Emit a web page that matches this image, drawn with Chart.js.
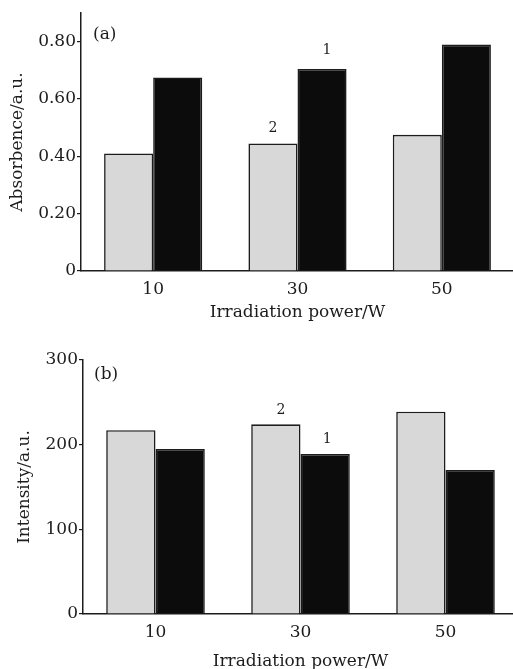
<!DOCTYPE html>
<html>
<head>
<meta charset="utf-8">
<script src="https://cdn.jsdelivr.net/npm/chart.js@4/dist/chart.umd.min.js"></script>
<style>
  html, body { margin: 0; padding: 0; background: #fff; overflow: hidden; width: 513px; height: 669px; }
  .panel { position: absolute; left: 0; }
</style>
</head>
<body>
<div class="panel" style="top:0px; width:515px; height:323px;"><canvas id="chartA"></canvas></div>
<div class="panel" style="top:340px; width:520px; height:332px;"><canvas id="chartB"></canvas></div>
<script>
// data
const powers = ['10', '30', '50'];
const absorb2 = [0.41, 0.445, 0.475];   // curve 2, grey bars
const absorb1 = [0.675, 0.705, 0.79];   // curve 1, black bars
const intens2 = [217, 224, 239];
const intens1 = [195, 189, 170];
const curveNames = ['2', '1'];
const xTitle = 'Irradiation power/W';

const SERIF = "'DejaVu Serif', 'Liberation Serif', serif";
const INK = '#1c1c1c';
const GREY = '#d8d8d8';
const BLACK = '#0c0c0c';

// writes the curve number above the bars of the middle group and the panel letter
const markLabels = {
    id: 'markLabels',
    afterDatasetsDraw(chart, args, opts) {
        const ctx = chart.ctx;
        ctx.save();
        ctx.fillStyle = INK;
        ctx.font = '14px ' + SERIF;
        ctx.textAlign = 'center';
        ctx.textBaseline = 'bottom';
        chart.data.datasets.forEach((ds, i) => {
            const bar = chart.getDatasetMeta(i).data[1];
            ctx.fillText(ds.label, bar.x + opts.dx[i], bar.y - opts.gap[i]);
        });
        ctx.font = '17px ' + SERIF;
        ctx.textAlign = 'left';
        ctx.textBaseline = 'middle';
        ctx.fillText(opts.letter, chart.chartArea.left + opts.letterX, chart.chartArea.top + opts.letterY);
        ctx.restore();
    }
};

function makeChart(canvasID, s2, s1, yMax, yStep, yTitle, fmt, yWidth, titlePad, layoutPad, xHeight, marks) {
    const canvas = document.getElementById(canvasID);
    return new Chart(canvas, {
        type: 'bar',
        data: {
            labels: powers,
            datasets: [
                { label: curveNames[0], data: s2, backgroundColor: GREY, borderColor: INK, borderWidth: 1.6 },
                { label: curveNames[1], data: s1, backgroundColor: BLACK, borderColor: INK, borderWidth: 1.6 }
            ]
        },
        plugins: [markLabels],
        options: {
            responsive: true,
            maintainAspectRatio: false,
            animation: false,
            devicePixelRatio: 1,
            layout: { padding: layoutPad },
            datasets: { bar: { categoryPercentage: 0.68, barPercentage: 1.0 } },
            plugins: {
                legend: { display: false },
                tooltip: { enabled: false },
                markLabels: marks
            },
            scales: {
                x: {
                    grid: { display: false, drawTicks: false },
                    border: { display: true, color: INK, width: 1.5 },
                    ticks: { color: INK, font: { family: SERIF, size: 17 }, padding: 8 },
                    title: { display: true, text: xTitle, color: INK, font: { family: SERIF, size: 17 }, padding: 0 },
                    afterFit: (s) => { s.height = xHeight; }
                },
                y: {
                    min: 0,
                    max: yMax,
                    grid: { drawOnChartArea: false, drawTicks: true, tickLength: 4, color: INK, lineWidth: 1.2 },
                    border: { display: true, color: INK, width: 1.5 },
                    ticks: { stepSize: yStep, color: INK, font: { family: SERIF, size: 17 }, padding: 1, callback: fmt },
                    afterBuildTicks: (s) => { s.ticks = s.ticks.filter(t => t.value <= yMax - yStep / 2 + 1e-9 || yMax % yStep === 0); },
                    title: { display: true, text: yTitle, color: INK, font: { family: SERIF, size: 17 }, padding: { top: titlePad, bottom: 0 } },
                    afterFit: (s) => { s.width = yWidth; }
                }
            }
        }
    });
}

makeChart('chartA', absorb2, absorb1, 0.9, 0.2, 'Absorbence/a.u.',
    (v) => v === 0 ? '0' : v.toFixed(2), 81, 7, { top: 13, right: 1, bottom: 0, left: 0 }, 52,
    { gap: [8, 12], dx: [0, 5], letter: '(a)', letterX: 12, letterY: 22 });
makeChart('chartB', intens2, intens1, 300, 100, 'Intensity/a.u.',
    (v) => String(v), 83, 14, { top: 20, right: 2, bottom: 0, left: 0 }, 58,
    { gap: [7, 8], dx: [5, 2], letter: '(b)', letterX: 11, letterY: 15 });
</script>
</body>
</html>
